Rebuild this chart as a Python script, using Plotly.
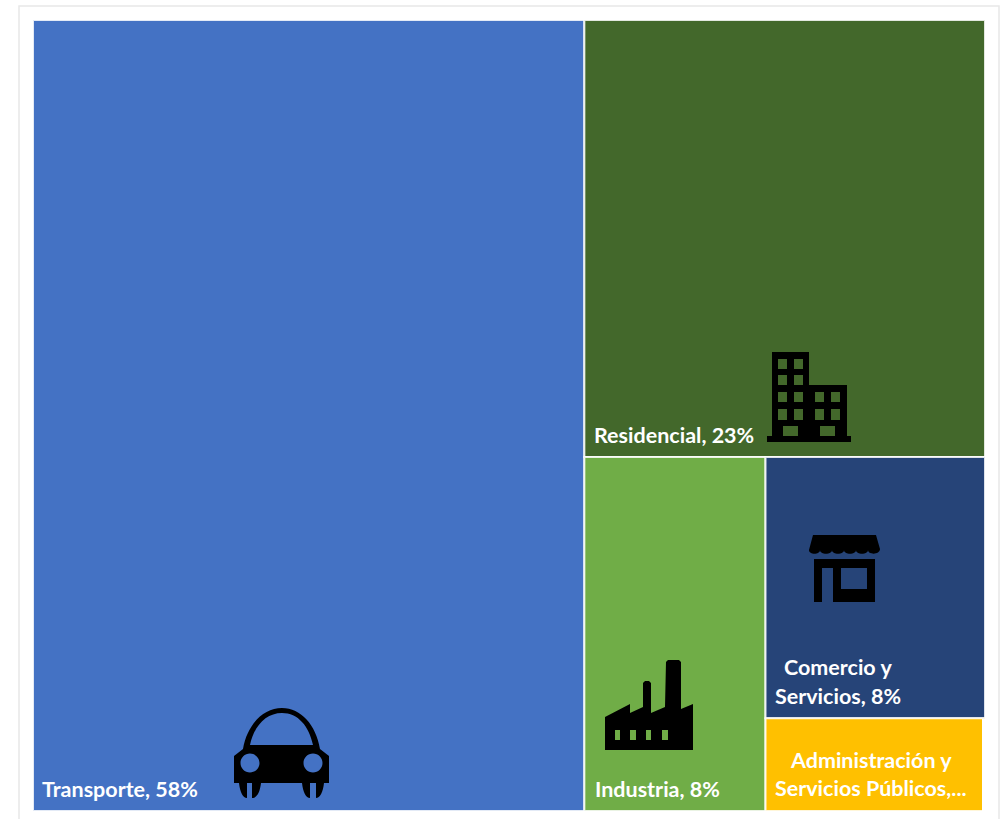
import plotly.graph_objects as go

W, H = 1001, 819

# ---- data ----
sectors = ["Transporte", "Residencial", "Industria", "Comercio y Servicios", "Administración y Servicios Públicos"]
shares = [57.8, 23.2, 8.5, 7.6, 2.7]
colors = ["#4472C4", "#43682B", "#70AD47", "#264478", "#FFC000"]
label_lines = ["Transporte, 58%", "Residencial, 23%", "Industria, 8%", "Comercio y", "Servicios, 8%",
               "Administración y", "Servicios Públicos,..."]
label_anchor = [(40, 789), (592, 435), (593, 789), (782, 667), (773, 696), (788, 760), (773, 788)]


def px(x):
    return x / W


def py(y):
    return 1 - y / H


def P(points, close=True):
    s = "M" + " L".join(f"{px(x):.5f},{py(y):.5f}" for x, y in points)
    return s + (" Z" if close else "")


def rect(x0, y0, x1, y1):
    return P([(x0, y0), (x1, y0), (x1, y1), (x0, y1)])


def circle(cx, cy, r):
    k = 0.5523 * r
    def c(a, b):
        return f"{px(a):.5f},{py(b):.5f}"
    return (f"M{c(cx + r, cy)} C{c(cx + r, cy + k)} {c(cx + k, cy + r)} {c(cx, cy + r)} "
            f"C{c(cx - k, cy + r)} {c(cx - r, cy + k)} {c(cx - r, cy)} "
            f"C{c(cx - r, cy - k)} {c(cx - k, cy - r)} {c(cx, cy - r)} "
            f"C{c(cx + k, cy - r)} {c(cx + r, cy - k)} {c(cx + r, cy)} Z")


def C(*pts):
    return "C" + " ".join(f"{px(a):.5f},{py(b):.5f}" for a, b in pts)


def M(a, b):
    return f"M{px(a):.5f},{py(b):.5f}"


def L(a, b):
    return f"L{px(a):.5f},{py(b):.5f}"


# car
car = " ".join([
    M(234, 783), L(234, 756), L(243, 749),
    C((247, 725), (263, 708), (282, 708)),
    C((301, 708), (316, 725), (320, 749)),
    L(329, 756), L(329, 783), "Z",
    M(250, 745), C((254, 726), (266, 713), (282, 713)),
    C((298, 713), (309, 726), (313, 745)), "Z",
    circle(250, 763, 9.5), circle(313, 763, 9.5),
    M(239, 783), L(247, 783), L(247, 798), C((243, 798), (240, 792), (239, 783)), "Z",
    M(252, 783), L(261, 783), C((260, 792), (257, 798), (252, 798)), "Z",
    M(302, 783), L(310, 783), L(310, 798), C((306, 798), (303, 792), (302, 783)), "Z",
    M(316, 783), L(324, 783), C((323, 792), (320, 798), (316, 798)), "Z",
])

# building
building_parts = [P([(772, 352), (809, 352), (809, 385), (847, 385), (847, 436), (772, 436)]),
                  rect(767, 436, 851, 442)]
for y0, y1 in [(359, 369), (375, 385), (392, 402), (409, 420)]:
    building_parts += [rect(778, y0, 787, y1), rect(794, y0, 803, y1)]
for y0, y1 in [(392, 402), (409, 420)]:
    building_parts += [rect(815, y0, 824, y1), rect(831, y0, 840, y1)]
building_parts += [rect(783, 426, 798, 436), rect(820, 426, 835, 436)]
building = " ".join(building_parts)

# store
awning = [M(813, 535), L(876, 535), L(880, 549)]
scallop_x = [880, 868, 856, 844, 832, 820, 809]
for a, b in zip(scallop_x[:-1], scallop_x[1:]):
    awning.append(C((a, 555), (b, 555), (b, 550)))
awning += [L(813, 535), "Z"]
store = " ".join(awning + [
    P([(814, 559), (875, 559), (875, 602), (833, 602), (833, 568), (822, 568), (822, 602), (814, 602)]),
    rect(841, 568, 867, 589),
])

# factory
factory = " ".join([
    P([(605, 750), (605, 717), (630, 704), (630, 713), (643, 707), (643, 683), (645, 681), (649, 681), (651, 683),
       (651, 713), (665, 707), (666, 662), (668, 660), (679, 660), (681, 662), (681, 709), (693, 704), (693, 750)]),
    rect(615, 730, 620, 740), rect(630, 730, 636, 740), rect(646, 730, 651, 740), rect(662, 730, 668, 740),
])

fig = go.Figure(go.Treemap(
    labels=sectors,
    parents=[""] * len(sectors),
    values=shares,
    sort=False,
    textinfo="none",
    hoverinfo="label+value",
    marker=dict(colors=colors, line=dict(color="rgba(255,255,255,0.85)", width=2), pad=dict(t=0, l=0, r=0, b=0)),
    tiling=dict(packing="squarify", squarifyratio=1, pad=0),
    pathbar=dict(visible=False),
    root=dict(color="white"),
    domain=dict(x=[33 / W, 985 / W], y=[1 - 811 / H, 1 - 20 / H]),
))

shapes = [dict(type="rect", xref="paper", yref="paper", x0=px(19), x1=px(999), y0=py(830), y1=py(6),
               line=dict(color="#E8E8E8", width=1.5), fillcolor="rgba(0,0,0,0)", layer="below"),
          dict(type="rect", xref="paper", yref="paper", x0=px(982), x1=px(986), y0=py(812), y1=py(719),
               line=dict(width=0), fillcolor="white", layer="above")]
for path in (car, building, store, factory):
    shapes.append(dict(type="path", xref="paper", yref="paper", path=path, fillcolor="black",
                       line=dict(width=0), layer="above"))

annotations = [dict(text=t, x=px(x), y=py(y), xref="paper", yref="paper", xanchor="left", yanchor="middle",
                    showarrow=False, font=dict(family="Lato", size=21.5, color="white", weight="bold"))
               for t, (x, y) in zip(label_lines, label_anchor)]

fig.update_layout(width=W, height=H, margin=dict(l=0, r=0, t=0, b=0), paper_bgcolor="white",
                  shapes=shapes, annotations=annotations, showlegend=False)

fig.write_html("out.html", config=dict(displayModeBar=False),
               post_script="document.body.style.margin='0';document.body.style.overflow='hidden';")
